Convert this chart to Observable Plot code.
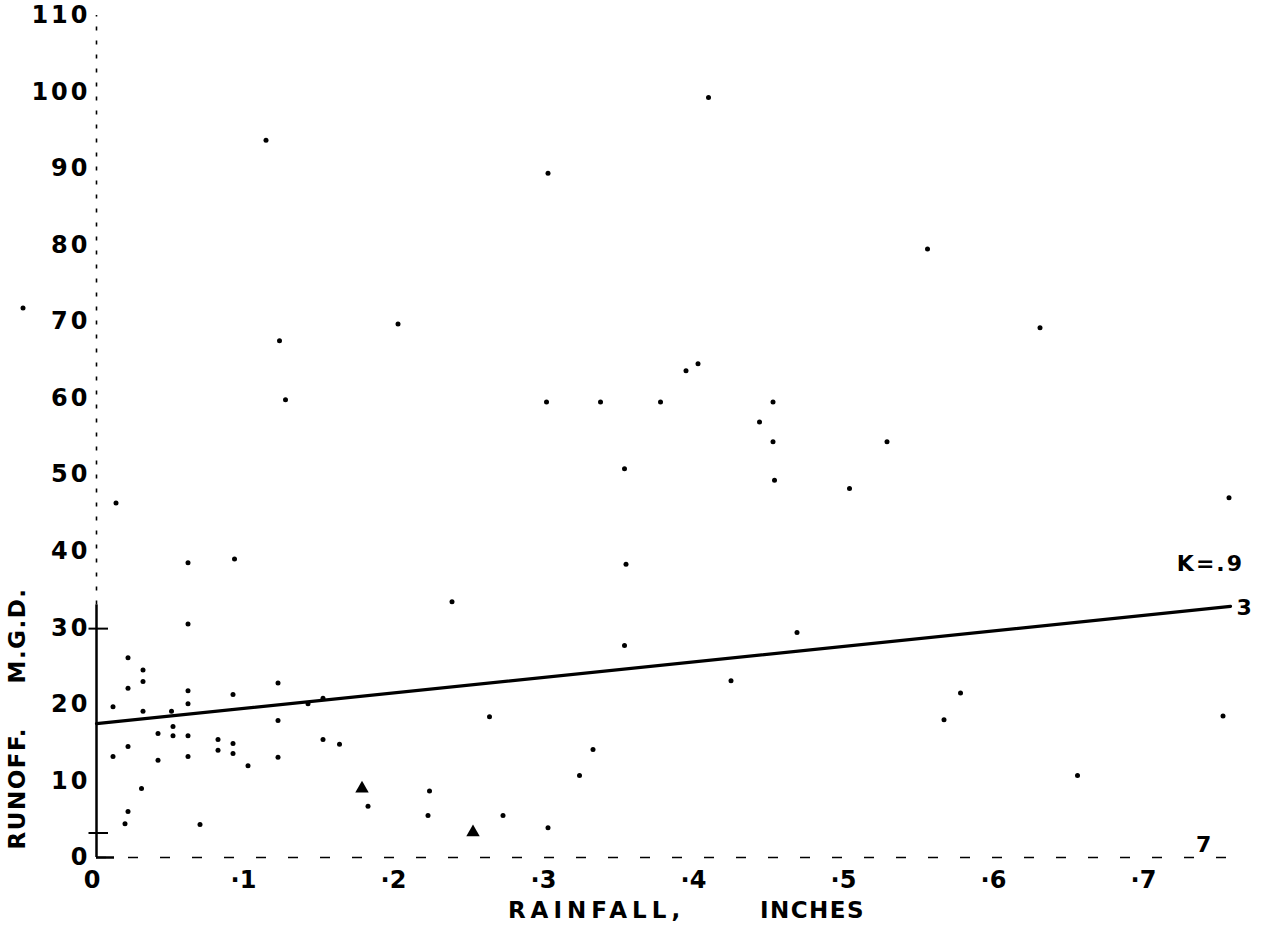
<!DOCTYPE html>
<html>
<head>
<meta charset="utf-8">
<script src="https://cdn.jsdelivr.net/npm/d3@7"></script>
<script src="https://cdn.jsdelivr.net/npm/@observablehq/plot@0.6"></script>
<style>
  html, body { margin: 0; padding: 0; background: #fff; }
  #chart svg { display: block; }
</style>
</head>
<body>
<div id="chart"></div>
<script>
// Observations: rainfall (inches) vs runoff (M.G.D.)
const rainfall = [0.113,0.301,0.408,0.122,0.201,0.126,0.300,0.336,0.376,0.393,
  0.401,0.451,0.554,0.629,0.442,0.451,0.527,0.452,0.502,0.352,
  0.755,0.013,0.061,0.092,0.353,0.237,0.061,0.467,0.352,0.423,
  0.021,0.031,0.031,0.021,0.061,0.121,0.091,0.061,0.011,0.031,
  0.050,0.121,0.141,0.151,0.041,0.051,0.051,0.061,0.081,0.081,
  0.091,0.091,0.101,0.121,0.021,0.011,0.041,0.061,0.151,0.162,
  0.030,0.021,0.019,0.069,0.262,0.331,0.322,0.222,0.181,0.221,
  0.271,0.301,0.576,0.565,0.654,0.751,-0.049];
const runoff = [93.7,89.4,99.3,67.5,69.7,59.8,59.5,59.5,59.5,63.6,
  64.5,59.5,79.5,69.2,56.9,54.3,54.3,49.3,48.2,50.8,
  47.0,46.3,38.5,39.0,38.3,33.4,30.5,29.4,27.7,23.1,
  26.1,24.5,23.0,22.1,21.8,22.8,21.3,20.1,19.7,19.1,
  19.1,17.9,20.1,20.8,16.2,17.1,15.9,15.9,15.4,14.0,
  14.9,13.6,12.0,13.1,14.5,13.2,12.7,13.2,15.4,14.8,
  9.0,6.0,4.4,4.3,18.4,14.1,10.7,8.7,6.7,5.5,
  5.5,3.9,21.5,18.0,10.7,18.5,71.8];

// Triangle-marked observations
const triRainfall = [0.177, 0.251];
const triRunoff = [9.0, 3.3];

// Fitted line K = .93
const lineRainfall = [0, 0.756];
const lineRunoff = [17.5, 32.8];

// Labels
const kLabels = ["K=.9", "3", "7"];
const kLabelX = [0.765, 0.760, 0.733];
const kLabelY = [38.4, 32.6, 1.6];
const kLabelAnchor = ["end", "start", "start"];

// Axis ticks
const xTicks = [0, 0.1, 0.2, 0.3, 0.4, 0.5, 0.6, 0.7];
const xTickLabels = ["0", "·1", "·2", "·3", "·4", "·5", "·6", "·7"];
const yTicks = [0, 10, 20, 30, 40, 50, 60, 70, 80, 90, 100, 110];
const yTickLabels = ["0", "10", "20", "30", "40", "50", "60", "70", "80", "90", "100", "110"];
const axisMarksY = [3.2, 29.9];

const points = rainfall.map((r, i) => ({rainfall: r, runoff: runoff[i]}));
const tris = triRainfall.map((r, i) => ({rainfall: r, runoff: triRunoff[i]}));
const fit = lineRainfall.map((r, i) => ({rainfall: r, runoff: lineRunoff[i]}));
const notes = kLabels.map((t, i) => ({text: t, rainfall: kLabelX[i], runoff: kLabelY[i], anchor: kLabelAnchor[i]}));

const font = "DejaVu Sans";

const chart = Plot.plot({
  width: 1268,
  height: 940,
  marginLeft: 96,
  marginRight: 2,
  marginTop: 15,
  marginBottom: 83,
  x: {domain: [0, 0.78]},
  y: {domain: [0, 110]},
  style: {fontFamily: font, fontWeight: "bold", fontSize: "24px", color: "#000", background: "#fff"},
  marks: [
    Plot.axisX({ticks: xTicks, tickFormat: d => xTickLabels[xTicks.indexOf(d)], tickSize: 0, tickPadding: 13, dx: -3, label: null, fontSize: 24}),
    Plot.axisY({ticks: yTicks, tickFormat: d => yTickLabels[yTicks.indexOf(d)], tickSize: 0, tickPadding: 6, label: null, fontSize: 24}),
    // y axis: solid lower part, broken upper part
    Plot.ruleX([0], {y1: 0, y2: 33, stroke: "#000", strokeWidth: 2.5}),
    Plot.ruleX([0], {y1: 33, y2: 110, stroke: "#000", strokeWidth: 1.6, strokeDasharray: "4,10"}),
    Plot.ruleY(axisMarksY, {x1: -0.005, x2: 0.008, stroke: "#000", strokeWidth: 2}),
    // x axis: broken dashed baseline
    Plot.ruleY([0], {x1: 0, x2: 0.755, stroke: "#000", strokeWidth: 1.6, strokeDasharray: "10,22"}),
    Plot.ruleY([0], {x1: 0, x2: 0.012, stroke: "#000", strokeWidth: 2.5}),
    Plot.line(fit, {x: "rainfall", y: "runoff", stroke: "#000", strokeWidth: 3.2}),
    Plot.dot(points, {x: "rainfall", y: "runoff", r: 2.5, fill: "#000", stroke: "none"}),
    Plot.dot(tris, {x: "rainfall", y: "runoff", symbol: "triangle", r: 5, fill: "#000", stroke: "none"}),
    Plot.text(notes.filter(d => d.anchor === "end"), {x: "rainfall", y: "runoff", text: "text", textAnchor: "end", fontSize: 22, fontWeight: "bold", fill: "#000"}),
    Plot.text(notes.filter(d => d.anchor === "start"), {x: "rainfall", y: "runoff", text: "text", textAnchor: "start", fontSize: 22, fontWeight: "bold", fill: "#000"}),
    // axis titles
    Plot.text(["RUNOFF."], {frameAnchor: "bottom-left", rotate: -90, textAnchor: "start", dx: -72, dy: -8, fontSize: 23, fontWeight: "bold", fill: "#000"}),
    Plot.text(["M.G.D."], {frameAnchor: "bottom-left", rotate: -90, textAnchor: "start", dx: -72, dy: -174, fontSize: 23, fontWeight: "bold", fill: "#000"}),
    Plot.text(["RAINFALL,"], {frameAnchor: "bottom-left", textAnchor: "middle", dx: 500, dy: 60, fontSize: 23, fontWeight: "bold", fill: "#000"}),
    Plot.text(["INCHES"], {frameAnchor: "bottom-left", textAnchor: "middle", dx: 716, dy: 60, fontSize: 23, fontWeight: "bold", fill: "#000"})
  ]
});

document.getElementById("chart").appendChild(chart);

// letter spacing tweaks to mimic the stencil lettering
d3.select(chart).selectAll("text").each(function() {
  const t = this.textContent;
  if (t === "RAINFALL,") this.setAttribute("letter-spacing", "5");
  else if (t === "INCHES" || t === "RUNOFF." || t === "M.G.D.") this.setAttribute("letter-spacing", "1.5");
  else if (yTickLabels.includes(t)) this.setAttribute("letter-spacing", "3");
  else if (t === "K=.9") this.setAttribute("letter-spacing", "2");
});
</script>
</body>
</html>
